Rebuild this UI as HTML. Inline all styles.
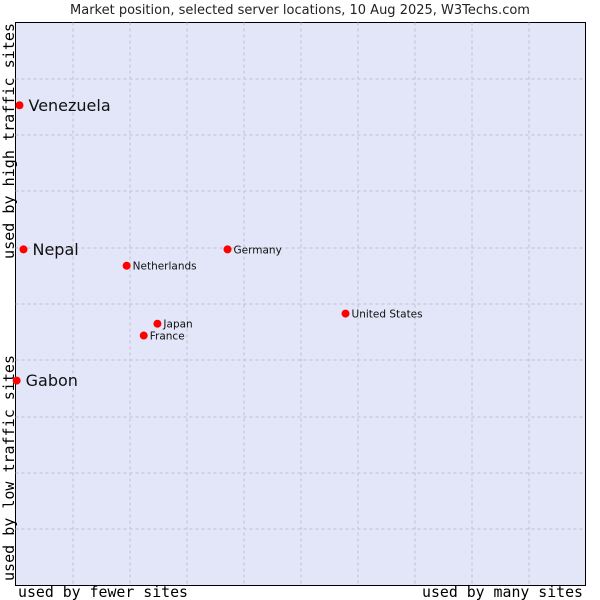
<!DOCTYPE html>
<html><head><meta charset="utf-8"><style>body{margin:0;background:#fff}svg{display:block}</style></head>
<body>
<svg id="c" width="600" height="600" xmlns="http://www.w3.org/2000/svg">
<rect x="0" y="0" width="600" height="600" fill="#fff"/>
<text x="300" y="14" text-anchor="middle" font-family="DejaVu Sans, sans-serif" font-size="13" fill="#222">Market position, selected server locations, 10 Aug 2025, W3Techs.com</text>
<rect x="15.5" y="22.5" width="570" height="563" fill="#e3e5f8" stroke="#000"/>
<g id="grid"></g>
<g id="marks"></g>
<text x="18" y="597" textLength="170" lengthAdjust="spacingAndGlyphs" font-family="DejaVu Sans Mono, monospace" font-size="15" fill="#000">used by fewer sites</text>
<text x="422" y="597" textLength="161" lengthAdjust="spacingAndGlyphs" font-family="DejaVu Sans Mono, monospace" font-size="15" fill="#000">used by many sites</text>
<text transform="translate(14,259) rotate(-90)" textLength="236" lengthAdjust="spacingAndGlyphs" font-family="DejaVu Sans Mono, monospace" font-size="15" fill="#000">used by high traffic sites</text>
<text transform="translate(14,581) rotate(-90)" textLength="226" lengthAdjust="spacingAndGlyphs" font-family="DejaVu Sans Mono, monospace" font-size="15" fill="#000">used by low traffic sites</text>
</svg>
<script>
const countries = ["Venezuela","Nepal","Gabon","Netherlands","Germany","Japan","France","United States"];
const xValues = [0.7,1.4,0.2,19.5,37.2,24.9,22.5,57.9];
const yValues = [85.3,59.7,36.4,56.8,59.7,46.5,44.4,48.3];
const bigLabel = [true,true,true,false,false,false,false,false];
const L=15.5,R=585.5,T=22.5,B=585.5;
function sx(v){return L+(R-L)*v/100;}
function sy(v){return B-(B-T)*v/100;}
const NS="http://www.w3.org/2000/svg";
const grid=document.getElementById('grid');
for(let i=1;i<10;i++){
  const gx=Math.round(L+(R-L)*i/10);
  let l=document.createElementNS(NS,'line');
  l.setAttribute('x1',gx);l.setAttribute('x2',gx);l.setAttribute('y1',T);l.setAttribute('y2',B);
  l.setAttribute('stroke','#c0c0c8');l.setAttribute('stroke-dasharray','3,3');
  
  
  grid.appendChild(l);
  const gy=Math.round(T+(B-T)*i/10);
  let h=document.createElementNS(NS,'line');
  h.setAttribute('x1',L);h.setAttribute('x2',R);h.setAttribute('y1',gy);h.setAttribute('y2',gy);
  h.setAttribute('stroke','#c0c0c8');h.setAttribute('stroke-dasharray','3,3');
  
  
  grid.appendChild(h);
}
const marks=document.getElementById('marks');
countries.forEach((c,i)=>{
  const x=sx(xValues[i]),y=sy(yValues[i]);
  const p=document.createElementNS(NS,'circle');
  p.setAttribute('cx',x);p.setAttribute('cy',y);p.setAttribute('r',4);p.setAttribute('fill','#f00');
  
  
  marks.appendChild(p);
  const t=document.createElementNS(NS,'text');
  const big=bigLabel[i];
  t.setAttribute('x',x+(big?9:6));t.setAttribute('y',y+(big?5.5:4));
  t.setAttribute('font-family','DejaVu Sans, sans-serif');
  t.setAttribute('font-size',big?16:10.5);t.setAttribute('fill','#111');
  t.textContent=c;
  
  
  marks.appendChild(t);
});
</script>
</body></html>
